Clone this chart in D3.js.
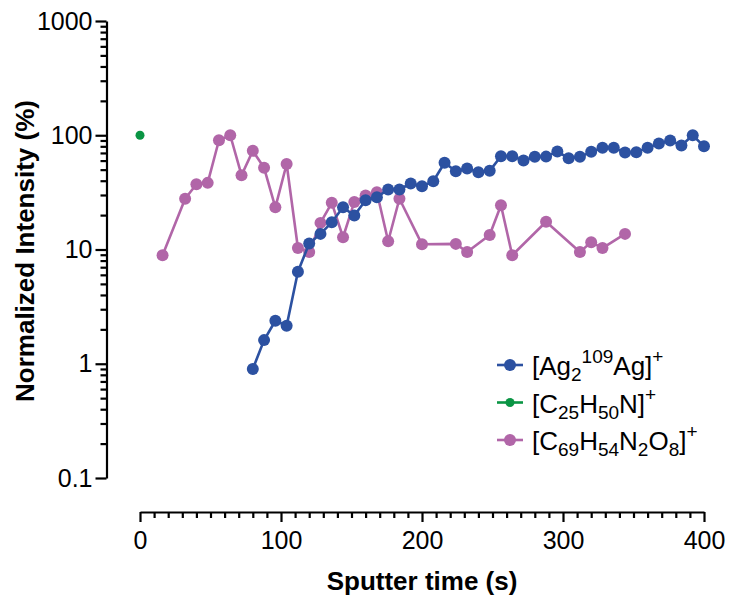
<!DOCTYPE html>
<html>
<head>
<meta charset="utf-8">
<script src="https://cdn.jsdelivr.net/npm/d3@7"></script>
<style>
  html, body { margin: 0; padding: 0; background: #fff; }
  svg text { font-family: "Liberation Sans", Arial, Helvetica, sans-serif; fill: #000; }
</style>
</head>
<body>
<svg id="chart" width="729" height="601"></svg>
<script>
// ---- data ----
const agTime = [80, 88, 96, 104, 112, 120, 128, 136, 144, 152, 160, 168, 176, 184, 192, 200, 208, 216, 224, 232, 240, 248, 256, 264, 272, 280, 288, 296, 304, 312, 320, 328, 336, 344, 352, 360, 368, 376, 384, 392, 400];
const agValue = [0.90, 1.61, 2.38, 2.15, 6.4, 11.3, 13.7, 17.3, 23.4, 19.8, 27.0, 28.7, 33.5, 33.5, 37.8, 35.8, 39.6, 57.4, 48.4, 51.2, 47.5, 48.8, 65.6, 65.6, 60.1, 64.7, 65.0, 72.0, 63.0, 64.7, 71.6, 77.6, 77.6, 70.6, 71.0, 77.6, 84.6, 89.8, 81.3, 100, 80.0];

const c25Time = [0];
const c25Value = [100];

const c69Time = [16, 32, 40, 48, 56, 64, 72, 80, 88, 96, 104, 112, 120, 128, 136, 144, 152, 160, 168, 176, 184, 200, 224, 232, 248, 256, 264, 288, 312, 320, 328, 344];
const c69Value = [8.9, 27.8, 37.3, 38.3, 90.4, 100, 44.7, 73.0, 51.9, 23.4, 56.0, 10.3, 9.5, 17.1, 25.6, 12.8, 26.1, 29.7, 31.7, 11.8, 27.8, 11.1, 11.2, 9.5, 13.4, 24.4, 8.9, 17.5, 9.5, 11.6, 10.3, 13.7];

const xTicks = [0, 100, 200, 300, 400];
const yTicks = [0.1, 1, 10, 100, 1000];
const yTickLabels = ["0.1", "1", "10", "100", "1000"];

const colors = { ag: "#2c51a1", c25: "#0a9544", c69: "#b166a8" };

// ---- layout ----
const svg = d3.select("#chart");
const x = d3.scaleLinear().domain([0, 400]).range([140, 704]);
const y = d3.scaleLog().domain([0.1, 1000]).range([478, 21]);
const yAxisX = 106.5;
const xAxisY = 512;

// minor y ticks
const yMinor = [];
for (let d = 0.1; d < 1000; d *= 10) {
  for (let k = 2; k <= 9; k++) yMinor.push(+(d * k).toPrecision(3));
}
const xMinor = d3.range(0, 401, 10).filter(v => v % 100 !== 0);

function styleAxis(g) {
  g.selectAll("path.domain").attr("stroke", "#000").attr("stroke-width", 2.2);
  g.selectAll(".tick line").attr("stroke", "#000").attr("stroke-width", 2.2);
  g.selectAll("text").style("font-size", "25px").attr("fill", "#000");
}

// y axis
const gyMinor = svg.append("g").attr("transform", `translate(${yAxisX},0)`)
  .call(d3.axisLeft(y).tickValues(yMinor).tickSize(6).tickFormat(""));
gyMinor.select("path.domain").remove();
styleAxis(gyMinor);

const gy = svg.append("g").attr("transform", `translate(${yAxisX},0)`)
  .call(d3.axisLeft(y).tickValues(yTicks).tickSize(11).tickSizeOuter(0).tickPadding(3)
    .tickFormat((d, i) => yTickLabels[i]));
styleAxis(gy);

// x axis
const gxMinor = svg.append("g").attr("transform", `translate(0,${xAxisY})`)
  .call(d3.axisBottom(x).tickValues(xMinor).tickSize(6).tickFormat(""));
gxMinor.select("path.domain").remove();
styleAxis(gxMinor);

const gx = svg.append("g").attr("transform", `translate(0,${xAxisY})`)
  .call(d3.axisBottom(x).tickValues(xTicks).tickSize(10).tickSizeOuter(0).tickPadding(9));
styleAxis(gx);

// axis titles
svg.append("text")
  .attr("x", 422).attr("y", 590)
  .attr("text-anchor", "middle")
  .style("font-size", "26px").style("font-weight", "bold")
  .text("Sputter time (s)");

svg.append("text")
  .attr("transform", "translate(34,251) rotate(-90)")
  .attr("text-anchor", "middle")
  .style("font-size", "26px").style("font-weight", "bold")
  .text("Normalized Intensity (%)");

// ---- series ----
function series(times, values, color, r, withLine) {
  const pts = times.map((t, i) => [t, values[i]]);
  const g = svg.append("g");
  if (withLine) {
    g.append("path")
      .datum(pts)
      .attr("fill", "none")
      .attr("stroke", color)
      .attr("stroke-width", 2.6)
      .attr("stroke-linejoin", "round")
      .attr("d", d3.line().x(d => x(d[0])).y(d => y(d[1])));
  }
  g.selectAll("circle").data(pts).enter().append("circle")
    .attr("cx", d => x(d[0])).attr("cy", d => y(d[1]))
    .attr("r", r).attr("fill", color);
}

series(c69Time, c69Value, colors.c69, 6, true);
series(agTime, agValue, colors.ag, 6, true);
series(c25Time, c25Value, colors.c25, 4.5, false);

// ---- legend ----
const legend = [
  { color: colors.ag, r: 6, parts: [["[Ag", 0], ["2", -1], ["109", 1], ["Ag]", 0], ["+", 1]] },
  { color: colors.c25, r: 4.5, parts: [["[C", 0], ["25", -1], ["H", 0], ["50", -1], ["N]", 0], ["+", 1]] },
  { color: colors.c69, r: 6, parts: [["[C", 0], ["69", -1], ["H", 0], ["54", -1], ["N", 0], ["2", -1], ["O", 0], ["8", -1], ["]", 0], ["+", 1]] }
];
const legY = [365, 402.5, 440];
legend.forEach((L, i) => {
  const g = svg.append("g").attr("transform", `translate(0,${legY[i]})`);
  g.append("line").attr("x1", 497).attr("x2", 523).attr("y1", 0).attr("y2", 0)
    .attr("stroke", L.color).attr("stroke-width", 2.6);
  g.append("circle").attr("cx", 510).attr("cy", 0).attr("r", L.r).attr("fill", L.color);
  const t = g.append("text").attr("x", 532).attr("y", 10).style("font-size", "26px");
  let prev = 0;
  L.parts.forEach(([s, pos]) => {
    const shift = pos === 1 ? -12 : pos === -1 ? 6 : 0;
    t.append("tspan")
      .attr("dy", shift - prev)
      .style("font-size", pos === 0 ? "26px" : "19px")
      .text(s);
    prev = shift;
  });
});
</script>
</body>
</html>
